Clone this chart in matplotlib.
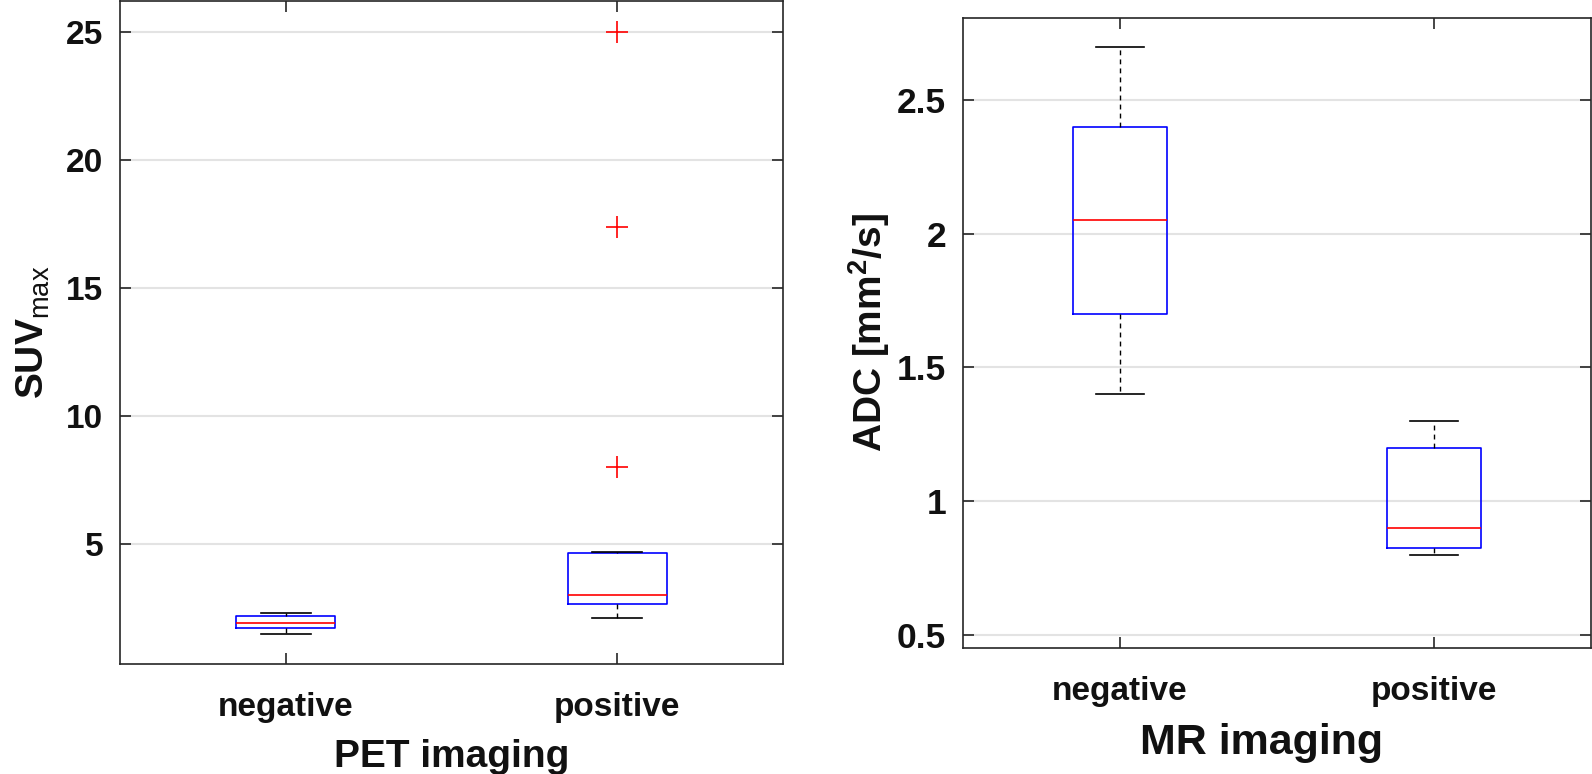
import matplotlib
matplotlib.use("Agg")
import matplotlib.pyplot as plt

# PET imaging: SUVmax box statistics
pet_groups = ["negative", "positive"]
pet_whislo = [1.48, 2.11]
pet_q1 = [1.72, 2.67]
pet_med = [1.92, 3.02]
pet_q3 = [2.19, 4.64]
pet_whishi = [2.31, 4.68]
pet_fliers = [[], [8.0, 17.4, 25.0]]

# MR imaging: ADC box statistics
mr_groups = ["negative", "positive"]
mr_whislo = [1.40, 0.80]
mr_q1 = [1.70, 0.826]
mr_med = [2.05, 0.90]
mr_q3 = [2.40, 1.20]
mr_whishi = [2.70, 1.30]
mr_fliers = [[], []]

pet_yticks = [5, 10, 15, 20, 25]
mr_yticks = [0.5, 1, 1.5, 2, 2.5]

plt.rcParams["font.family"] = ["Liberation Sans", "DejaVu Sans"]
plt.rcParams["mathtext.fontset"] = "custom"
plt.rcParams["mathtext.rm"] = "Liberation Sans"
plt.rcParams["mathtext.bf"] = "Liberation Sans:bold"

FRAME = "#262626"
W, H = 1592, 774


def stats(lo, q1, med, q3, hi, fl):
    return [dict(whislo=a, q1=b, med=c, q3=d, whishi=e, fliers=f)
            for a, b, c, d, e, f in zip(lo, q1, med, q3, hi, fl)]


def draw(ax, st, labels, yticks, ylim, xlabel, ylabel, ysize=24, xlsize=28, ypad=10):
    ax.bxp(st, positions=[1, 2], widths=0.3, capwidths=0.15,
           boxprops=dict(color="blue", lw=1.2),
           medianprops=dict(color="red", lw=1.2),
           whiskerprops=dict(color="black", lw=1.0, linestyle=(0, (3.5, 3))),
           capprops=dict(color="black", lw=1.2),
           flierprops=dict(marker="+", markeredgecolor="red", markersize=16, markeredgewidth=1.2))
    ax.set_xlim(0.5, 2.5)
    ax.set_ylim(*ylim)
    ax.set_xticks([1, 2])
    ax.set_xticklabels(labels)
    ax.set_yticks(yticks)
    ax.set_yticklabels([f"{t:g}" for t in yticks])
    ax.yaxis.grid(True, color="#e3e3e3", lw=1.5)
    ax.set_axisbelow(True)
    ax.tick_params(direction="in", length=8, width=1.2, color=FRAME, top=True, right=True,
                   labelcolor="#111111")
    ax.tick_params(axis="x", pad=20, labelsize=24)
    ax.tick_params(axis="y", pad=12, labelsize=ysize)
    for lab in ax.get_xticklabels() + ax.get_yticklabels():
        lab.set_fontweight("bold")
    for s in ax.spines.values():
        s.set_color(FRAME)
        s.set_linewidth(1.2)
    ax.set_xlabel(xlabel, fontsize=xlsize, fontweight="bold", labelpad=12, color="#111111")
    ax.set_ylabel(ylabel, fontsize=28, fontweight="bold", labelpad=ypad, color="#111111")


fig = plt.figure(figsize=(W / 100, H / 100), dpi=100)
ax1 = fig.add_axes([120 / W, 1 - 664 / H, 663 / W, 663 / H])
ax2 = fig.add_axes([963 / W, 1 - 648 / H, 628 / W, 630 / H])

draw(ax1, stats(pet_whislo, pet_q1, pet_med, pet_q3, pet_whishi, pet_fliers),
     pet_groups, pet_yticks, (0.32, 26.21), "PET imaging", r"SUV$_{\rm max}$")
draw(ax2, stats(mr_whislo, mr_q1, mr_med, mr_q3, mr_whishi, mr_fliers),
     mr_groups, mr_yticks, (0.451, 2.807), "MR imaging", r"ADC [mm$^{\mathbf{2}}$/s]",
     ysize=25.5, xlsize=31, ypad=4)
ax2.xaxis.label.set_x(0.476)

fig.savefig("out.png", dpi=100)
